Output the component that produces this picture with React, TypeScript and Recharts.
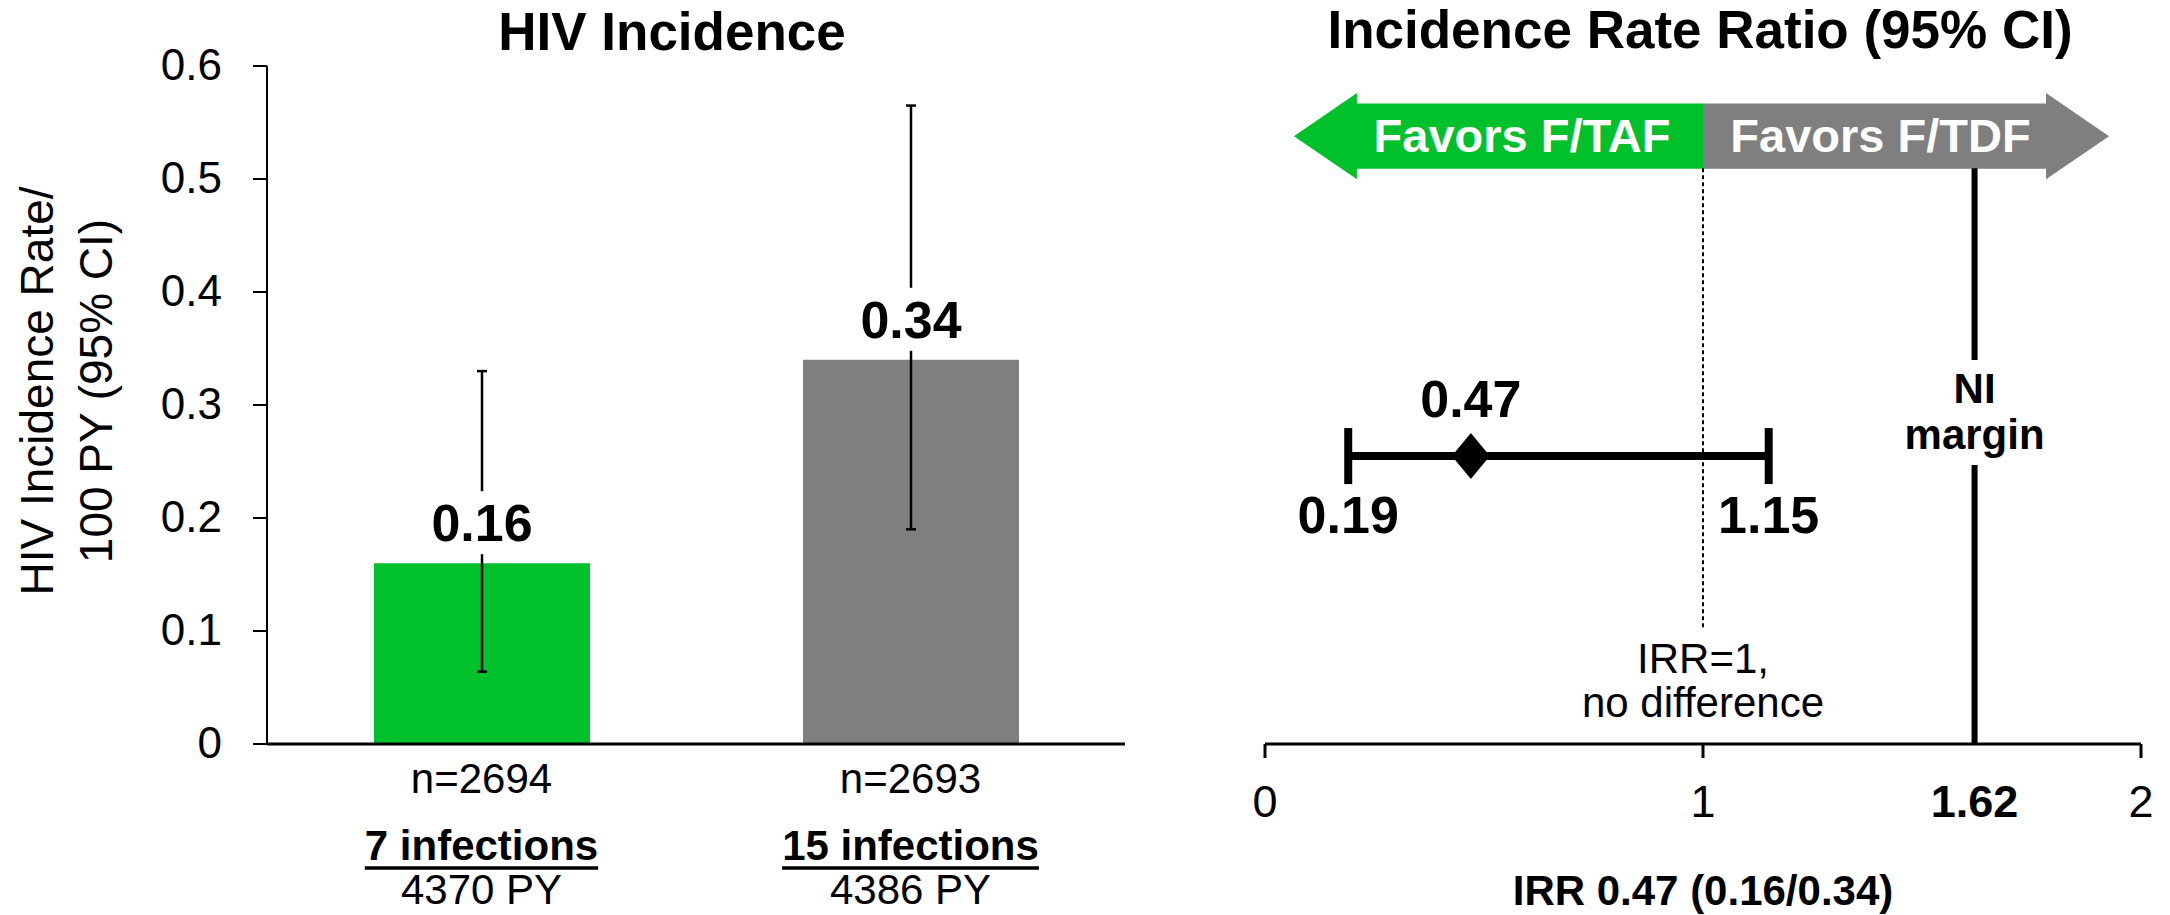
import React from 'react';
import {
  BarChart,
  Bar,
  Cell,
  XAxis,
  YAxis,
  ErrorBar,
  LabelList,
  Label,
  ComposedChart,
  Scatter,
  ReferenceLine,
  ReferenceArea,
  ReferenceDot,
} from 'recharts';

// ---- HIV incidence per arm ----
const groups = ['F/TAF', 'F/TDF'];
const incidence = [0.16, 0.34];
const ciLower = [0.064, 0.19];
const ciUpper = [0.33, 0.565];
const participants = [2694, 2693];
const infections = [7, 15];
const personYears = [4370, 4386];
const barColors = ['#00C12B', '#7F7F7F'];
const rateTicks = [0, 0.1, 0.2, 0.3, 0.4, 0.5, 0.6];

// ---- Incidence rate ratio ----
const irrEstimate = 0.47;
const irrLower = 0.19;
const irrUpper = 1.15;
const niMargin = 1.62;
const irrAxisTicks = [0, 1, 2];

const FONT = '"Liberation Sans", Arial, Helvetica, sans-serif';
const GREEN = barColors[0];
const GREY = barColors[1];

const rateRows = groups.map((group, i) => ({
  group,
  rate: incidence[i],
  ciError: [incidence[i] - ciLower[i], ciUpper[i] - incidence[i]],
}));

const irrRows = [
  {
    irr: irrEstimate,
    row: 38.7,
    ciError: [irrEstimate - irrLower, irrUpper - irrEstimate],
  },
];

// rows on the hidden vertical scale of the ratio panel (0..100)
const CI_ROW = irrRows[0].row;
const ARROW_BAND: [number, number] = [75.9, 87.5];
const NI_GAP: [number, number] = [37.5, 51.6];
const NULL_LINE_END = 15.3;
const ARROW_LEFT_TIP = 0.066;
const ARROW_RIGHT_TIP = 1.927;

let measureCtx: CanvasRenderingContext2D | null = null;
function textWidth(text: string, font: string): number {
  if (!measureCtx) measureCtx = document.createElement('canvas').getContext('2d');
  if (!measureCtx) return text.length * 20;
  measureCtx.font = font;
  return measureCtx.measureText(text).width;
}

function RateTick(props: any) {
  const { x, y, payload } = props;
  return (
    <text x={x} y={Number(y) + 14} textAnchor="end" fontSize={44} fontFamily={FONT} fill="#000">
      {payload.value}
    </text>
  );
}

function GroupTick(props: any) {
  const { x, y, payload } = props;
  const i = groups.indexOf(payload.value);
  const cx = Number(x);
  const top = Number(y);
  const infText = `${infections[i]} infections`;
  const w = textWidth(infText, `bold 42px ${FONT}`);
  return (
    <g>
      <text x={cx} y={top + 49} textAnchor="middle" fontSize={42} fontFamily={FONT} fill="#000">
        {`n=${participants[i]}`}
      </text>
      <text x={cx} y={top + 116} textAnchor="middle" fontSize={42} fontWeight="bold" fontFamily={FONT} fill="#000">
        {infText}
      </text>
      <line x1={cx - w / 2} x2={cx + w / 2} y1={top + 124} y2={top + 124} stroke="#000" strokeWidth={3.3} />
      <text x={cx} y={top + 160} textAnchor="middle" fontSize={42} fontFamily={FONT} fill="#000">
        {`${personYears[i]} PY`}
      </text>
    </g>
  );
}

function RateAxisTitle(props: any) {
  const vb = props.viewBox || { x: 0, y: 66, width: 267, height: 678 };
  const cy = vb.y + vb.height / 2 - 14;
  const x1 = vb.x + 53;
  const x2 = vb.x + 112;
  return (
    <g>
      <text x={x1} y={cy} transform={`rotate(-90, ${x1}, ${cy})`} textAnchor="middle" fontSize={46} fontFamily={FONT} fill="#000">
        HIV Incidence Rate/
      </text>
      <text x={x2} y={cy} transform={`rotate(-90, ${x2}, ${cy})`} textAnchor="middle" fontSize={46} fontFamily={FONT} fill="#000">
        100 PY (95% CI)
      </text>
    </g>
  );
}

function RateValueLabel(props: any) {
  const x = Number(props.x);
  const y = Number(props.y);
  const width = Number(props.width);
  const cx = x + width / 2;
  return (
    <g>
      <rect x={cx - 60} y={y - 72} width={120} height={63} fill="#fff" />
      <text x={cx} y={y - 22} textAnchor="middle" fontSize={52} fontWeight="bold" fontFamily={FONT} fill="#000">
        {Number(props.value).toFixed(2)}
      </text>
    </g>
  );
}

function IrrTick(props: any) {
  const { x, y, payload } = props;
  const cx = Number(x);
  const top = Number(y);
  const isMargin = payload.value === niMargin;
  return (
    <g>
      {!isMargin && <line x1={cx} x2={cx} y1={top} y2={top + 14} stroke="#000" strokeWidth={3} />}
      <text
        x={cx}
        y={top + 73}
        textAnchor="middle"
        fontSize={45}
        fontWeight={isMargin ? 'bold' : 'normal'}
        fontFamily={FONT}
        fill="#000"
      >
        {payload.value}
      </text>
    </g>
  );
}

function IrrCaption(props: any) {
  const vb = props.viewBox;
  if (!vb) return null;
  return (
    <text x={vb.x + vb.width / 2} y={vb.y + 161} textAnchor="middle" fontSize={42} fontWeight="bold" fontFamily={FONT} fill="#000">
      {`IRR ${irrEstimate.toFixed(2)} (${incidence[0].toFixed(2)}/${incidence[1].toFixed(2)})`}
    </text>
  );
}

function makeArrow(direction: 'left' | 'right', fill: string, text: string) {
  return (props: any) => {
    const x = Number(props.x);
    const y = Number(props.y);
    const w = Number(props.width);
    const h = Number(props.height);
    const head = 63;
    const inset = h * 0.122;
    const mid = y + h / 2;
    let points: string;
    let tx: number;
    if (direction === 'left') {
      points = [
        [x, mid],
        [x + head, y],
        [x + head, y + inset],
        [x + w, y + inset],
        [x + w, y + h - inset],
        [x + head, y + h - inset],
        [x + head, y + h],
      ]
        .map((p) => p.join(','))
        .join(' ');
      tx = (x + head + x + w) / 2 - 8;
    } else {
      points = [
        [x + w, mid],
        [x + w - head, y],
        [x + w - head, y + inset],
        [x, y + inset],
        [x, y + h - inset],
        [x + w - head, y + h - inset],
        [x + w - head, y + h],
      ]
        .map((p) => p.join(','))
        .join(' ');
      tx = (x + x + w - head) / 2 + 6;
    }
    return (
      <g>
        <polygon points={points} fill={fill} />
        <text x={tx} y={mid + 16} textAnchor="middle" fontSize={47} fontWeight="bold" fontFamily={FONT} fill="#fff">
          {text}
        </text>
      </g>
    );
  };
}

function Diamond(props: any) {
  const cx = Number(props.cx);
  const cy = Number(props.cy);
  return <polygon points={`${cx - 19},${cy} ${cx},${cy - 23} ${cx + 19},${cy} ${cx},${cy + 23}`} fill="#000" />;
}

type Line = { text: string; dy: number; size: number; bold?: boolean };
function textBlock(lines: Line[]) {
  return (props: any) => {
    const vb = props.viewBox;
    if (!vb) return null;
    const cx = vb.x + (vb.width || 0) / 2;
    const cy = vb.y + (vb.height || 0) / 2;
    return (
      <g>
        {lines.map((l, i) => (
          <text
            key={i}
            x={cx}
            y={cy + l.dy}
            textAnchor="middle"
            fontSize={l.size}
            fontWeight={l.bold ? 'bold' : 'normal'}
            fontFamily={FONT}
            fill="#000"
          >
            {l.text}
          </text>
        ))}
      </g>
    );
  };
}

export default function App() {
  return (
    <div style={{ position: 'absolute', left: 0, top: 0, width: 2170, height: 915, background: '#fff', fontFamily: FONT }}>
      <div style={{ position: 'absolute', left: 0, top: 0 }}>
        <BarChart width={1130} height={915} data={rateRows} margin={{ top: 66, right: 5, bottom: 0, left: 0 }}>
          <XAxis
            dataKey="group"
            height={171}
            axisLine={{ stroke: '#000', strokeWidth: 3 }}
            tickLine={false}
            tickSize={0}
            tickMargin={0}
            tick={<GroupTick />}
            interval={0}
          />
          <YAxis
            type="number"
            domain={[0, 0.6]}
            ticks={rateTicks}
            width={267}
            axisLine={{ stroke: '#000', strokeWidth: 2 }}
            tickLine={{ stroke: '#000', strokeWidth: 2 }}
            tickSize={14}
            tickMargin={31}
            tick={<RateTick />}
            interval={0}
          >
            <Label content={<RateAxisTitle />} />
          </YAxis>
          <Bar dataKey="rate" barSize={216} isAnimationActive={false}>
            {rateRows.map((r, i) => (
              <Cell key={r.group} fill={barColors[i]} />
            ))}
            <ErrorBar dataKey="ciError" direction="y" width={5} strokeWidth={2.5} stroke="#000" />
            <LabelList dataKey="rate" content={<RateValueLabel />} />
          </Bar>
        </BarChart>
      </div>

      <div style={{ position: 'absolute', left: 1135, top: 0 }}>
        <ComposedChart width={1035} height={915} data={irrRows} margin={{ top: 0, right: 29, bottom: 0, left: 130 }}>
          <XAxis
            type="number"
            dataKey="irr"
            domain={[0, 2]}
            ticks={[...irrAxisTicks.slice(0, 2), niMargin, irrAxisTicks[2]]}
            height={171}
            axisLine={{ stroke: '#000', strokeWidth: 3 }}
            tickLine={false}
            tickSize={0}
            tickMargin={0}
            tick={<IrrTick />}
            interval={0}
            allowDataOverflow
          >
            <Label content={<IrrCaption />} />
          </XAxis>
          <YAxis type="number" dataKey="row" domain={[0, 100]} hide width={0} allowDataOverflow />

          <ReferenceArea
            x1={ARROW_LEFT_TIP}
            x2={1}
            y1={ARROW_BAND[0]}
            y2={ARROW_BAND[1]}
            shape={makeArrow('left', GREEN, 'Favors F/TAF')}
          />
          <ReferenceArea
            x1={1}
            x2={ARROW_RIGHT_TIP}
            y1={ARROW_BAND[0]}
            y2={ARROW_BAND[1]}
            shape={makeArrow('right', GREY, 'Favors F/TDF')}
          />

          <ReferenceLine
            segment={[
              { x: 1, y: ARROW_BAND[0] + 1.5 },
              { x: 1, y: NULL_LINE_END },
            ]}
            stroke="#000"
            strokeWidth={2}
            strokeDasharray="4 3"
          />
          <ReferenceDot
            x={1}
            y={NULL_LINE_END}
            r={1}
            fill="none"
            stroke="none"
            label={textBlock([
              { text: 'IRR=1,', dy: 43, size: 42 },
              { text: 'no difference', dy: 87, size: 42 },
            ])}
          />

          <ReferenceLine
            segment={[
              { x: niMargin, y: 0 },
              { x: niMargin, y: NI_GAP[0] },
            ]}
            stroke="#000"
            strokeWidth={6}
          />
          <ReferenceLine
            segment={[
              { x: niMargin, y: NI_GAP[1] },
              { x: niMargin, y: ARROW_BAND[0] + 1.5 },
            ]}
            stroke="#000"
            strokeWidth={6}
          />
          <ReferenceDot
            x={niMargin}
            y={(NI_GAP[0] + NI_GAP[1]) / 2}
            r={1}
            fill="none"
            stroke="none"
            label={textBlock([
              { text: 'NI', dy: -10, size: 42, bold: true },
              { text: 'margin', dy: 36, size: 42, bold: true },
            ])}
          />

          <Scatter dataKey="row" shape={<Diamond />} isAnimationActive={false}>
            <ErrorBar dataKey="ciError" direction="x" width={28} strokeWidth={8} stroke="#000" />
          </Scatter>

          <ReferenceDot
            x={irrEstimate}
            y={CI_ROW}
            r={1}
            fill="none"
            stroke="none"
            label={textBlock([{ text: irrEstimate.toFixed(2), dy: -39, size: 52, bold: true }])}
          />
          <ReferenceDot
            x={irrLower}
            y={CI_ROW}
            r={1}
            fill="none"
            stroke="none"
            label={textBlock([{ text: irrLower.toFixed(2), dy: 77, size: 52, bold: true }])}
          />
          <ReferenceDot
            x={irrUpper}
            y={CI_ROW}
            r={1}
            fill="none"
            stroke="none"
            label={textBlock([{ text: irrUpper.toFixed(2), dy: 77, size: 52, bold: true }])}
          />
        </ComposedChart>
      </div>

      <svg width={2170} height={915} style={{ position: 'absolute', left: 0, top: 0, pointerEvents: 'none' }}>
        <text x={672} y={50} textAnchor="middle" fontSize={53} fontWeight="bold" fontFamily={FONT} fill="#000">
          HIV Incidence
        </text>
        <text x={1700} y={48} textAnchor="middle" fontSize={53} fontWeight="bold" fontFamily={FONT} fill="#000">
          Incidence Rate Ratio (95% CI)
        </text>
      </svg>
    </div>
  );
}
